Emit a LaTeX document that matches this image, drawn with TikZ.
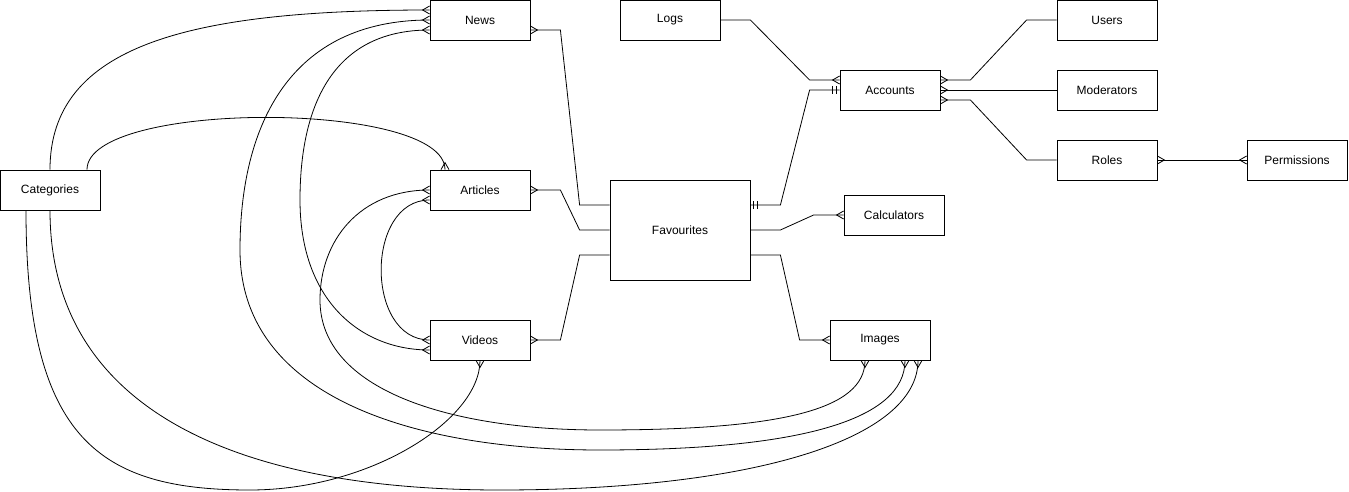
\documentclass[tikz,border=0pt]{standalone}
\usepackage{fontspec}
\setmainfont{Liberation Sans}
\pgfdeclarearrow{
  name = Crow,
  setup code = {
    \pgfarrowssettipend{0pt}
    \pgfarrowssetlineend{0pt}
    \pgfarrowssetbackend{-7pt}
    \pgfarrowsupperhullpoint{0pt}{4pt}
    \pgfarrowsupperhullpoint{-7pt}{0pt}
  },
  drawing code = {
    \pgfsetdash{}{0pt}
    \pgfpathmoveto{\pgfqpoint{0pt}{4pt}}
    \pgfpathlineto{\pgfqpoint{-7pt}{0pt}}
    \pgfpathlineto{\pgfqpoint{0pt}{-4pt}}
    \pgfusepathqstroke
  }
}
\pgfdeclarearrow{
  name = Bars,
  setup code = {
    \pgfarrowssettipend{0pt}
    \pgfarrowssetlineend{0pt}
    \pgfarrowssetbackend{-8pt}
    \pgfarrowsupperhullpoint{0pt}{4pt}
    \pgfarrowsupperhullpoint{-8pt}{4pt}
  },
  drawing code = {
    \pgfsetdash{}{0pt}
    \pgfpathmoveto{\pgfqpoint{-3pt}{4pt}}
    \pgfpathlineto{\pgfqpoint{-3pt}{-4pt}}
    \pgfpathmoveto{\pgfqpoint{-7pt}{4pt}}
    \pgfpathlineto{\pgfqpoint{-7pt}{-4pt}}
    \pgfusepathqstroke
  }
}
\tikzset{
  entity/.style={draw, rectangle, line width=0.8pt, minimum width=100pt, minimum height=40pt, inner sep=0pt, font=\fontsize{12}{14}\selectfont},
  rel/.style={line width=0.8pt},
}
\begin{document}
\begin{tikzpicture}[x=1pt,y=-1pt]
\useasboundingbox (0,0) rectangle (1349,492);
% nodes
\node[entity] (news) at (480,20) {News};
\node[entity] (logs) at (670,20) {Logs};
\node[entity] (users) at (1107,20) {Users};
\node[entity] (acc) at (890,90) {Accounts};
\node[entity] (mod) at (1107,90) {Moderators};
\node[entity] (roles) at (1107,160) {Roles};
\node[entity] (perm) at (1297,160) {Permissions};
\node[entity] (cat) at (50,190) {Categories};
\node[entity] (articles) at (480,190) {Articles};
\node[entity, minimum width=140pt, minimum height=100pt] (fav) at (680,230) {Favourites};
\node[entity] (calc) at (894,215) {Calculators};
\node[entity] (videos) at (480,340) {Videos};
\node[entity] (images) at (880,340) {Images};
% straight relations
\draw[rel, Crow-] ([yshift=-10pt]news.east) -- ++(30,0) -- ([xshift=-30pt,yshift=25pt]fav.west) -- ([yshift=25pt]fav.west);
\draw[rel, Crow-] (articles.east) -- ++(30,0) -- ([xshift=-30pt]fav.west) -- (fav.west);
\draw[rel, Crow-] (videos.east) -- ++(30,0) -- ([xshift=-30pt,yshift=-25pt]fav.west) -- ([yshift=-25pt]fav.west);
\draw[rel, Bars-Bars] ([yshift=25pt]fav.east) -- ++(30,0) -- ([xshift=-30pt]acc.west) -- (acc.west);
\draw[rel, -Crow] (logs.east) -- ++(30,0) -- ([xshift=-30pt,yshift=10pt]acc.west) -- ([yshift=10pt]acc.west);
\draw[rel, -Crow] (fav.east) -- ++(30,0) -- ([xshift=-30pt]calc.west) -- (calc.west);
\draw[rel, -Crow] ([yshift=-25pt]fav.east) -- ++(30,0) -- ([xshift=-30pt]images.west) -- (images.west);
\draw[rel, Crow-] ([yshift=10pt]acc.east) -- ++(30,0) -- ([xshift=-30pt]users.west) -- (users.west);
\draw[rel, Crow-] (acc.east) -- (mod.west);
\draw[rel, Crow-] ([yshift=-10pt]acc.east) -- ++(30,0) -- ([xshift=-30pt]roles.west) -- (roles.west);
\draw[rel, Crow-Crow] (roles.east) -- (perm.west);
% curved relations
\draw[rel, -Crow] (cat.north) .. controls (50,45) and (190,10) .. ([yshift=10pt]news.west);
\draw[rel, -Crow] ([xshift=37pt]cat.north) .. controls (87,100) and (445,100) .. ([xshift=-35pt]articles.north);
\draw[rel, Crow-Crow] (news.west) .. controls (290,20) and (240,125) .. (240,250) .. controls (240,400) and (420,450) .. (600,450) .. controls (800,450) and (905,420) .. ([xshift=25pt]images.south);
\draw[rel, Crow-Crow] ([yshift=-10pt]news.west) .. controls (330,30) and (300,110) .. (300,200) .. controls (300,300) and (360,350) .. ([yshift=-10pt]videos.west);
\draw[rel, Crow-Crow] (articles.west) .. controls (360,190) and (320,240) .. (320,300) .. controls (320,390) and (450,430) .. (600,430) .. controls (780,430) and (865,410) .. ([xshift=-15pt]images.south);
\draw[rel, Crow-Crow] ([yshift=-10pt]articles.west) .. controls (365,200) and (365,340) .. (videos.west);
\draw[rel, -Crow] ([xshift=-24pt]cat.south) .. controls (26,440) and (100,490) .. (250,490) .. controls (370,490) and (480,420) .. (videos.south);
\draw[rel, -Crow] (cat.south) .. controls (50,400) and (220,490) .. (500,490) .. controls (750,490) and (918,440) .. ([xshift=38pt]images.south);
\end{tikzpicture}
\end{document}
